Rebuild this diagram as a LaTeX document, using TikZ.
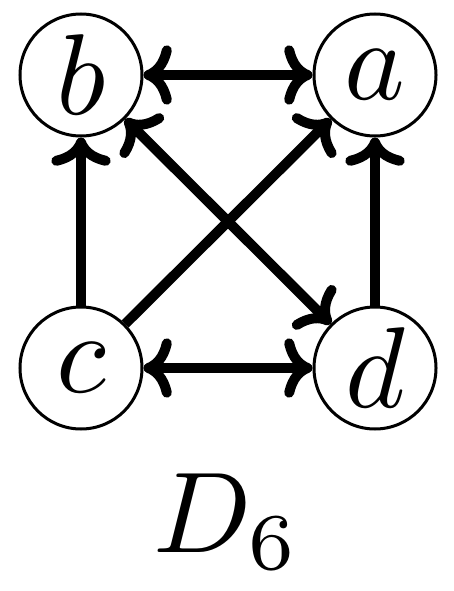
\documentclass[tikz,border=0pt]{standalone}
\usepackage{graphicx}
\usetikzlibrary{arrows.meta}
\newcommand{\hugemath}[1]{\scalebox{11.5}{$#1$}}
\begin{document}
\begin{tikzpicture}[x=1pt,y=-1pt,
  vtx/.style={circle,draw,line width=3pt,minimum size=122pt,inner sep=0pt},
  edge/.style={line width=10pt,-{Computer Modern Rightarrow[round,scale=1.2]}},
  bedge/.style={line width=10pt,{Computer Modern Rightarrow[round,scale=1.2]}-{Computer Modern Rightarrow[round,scale=1.2]}}]
\useasboundingbox (0,0) rectangle (454,591);
\node[vtx] (b) at (81,75) {\hugemath{b}};
\node[vtx] (a) at (375,75) {\hugemath{a}};
\node[vtx] (c) at (81,368) {\hugemath{c}};
\node[vtx] (d) at (375,368) {\hugemath{d}};
\node[anchor=base,inner sep=0pt] (lbl) at (227,552) {\hugemath{D_6}};
\draw[bedge] (b) -- (a);
\draw[bedge] (c) -- (d);
\draw[edge] (c) -- (b);
\draw[edge] (d) -- (a);
\draw[edge] (c) -- (a);
\draw[bedge] (b) -- (d);
\end{tikzpicture}
\end{document}
